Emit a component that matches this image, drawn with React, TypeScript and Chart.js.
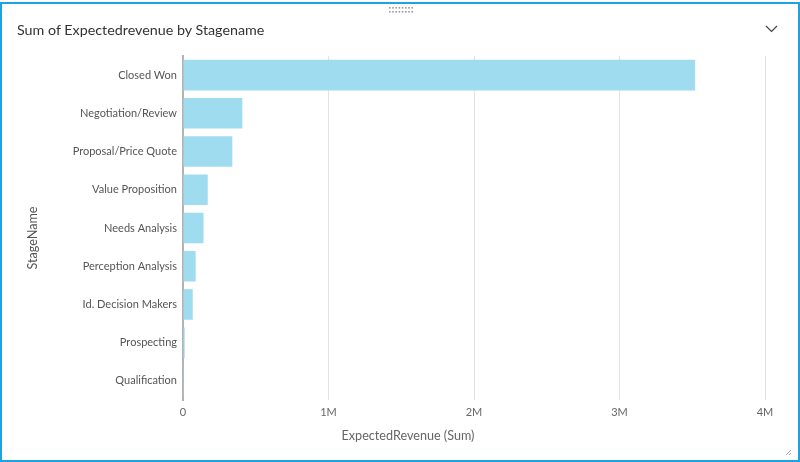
import React, { useEffect, useRef } from "react";
import { Chart, registerables } from "chart.js";

Chart.register(...registerables);

const categories: string[] = [
  "Closed Won",
  "Negotiation/Review",
  "Proposal/Price Quote",
  "Value Proposition",
  "Needs Analysis",
  "Perception Analysis",
  "Id. Decision Makers",
  "Prospecting",
  "Qualification",
];

const expectedRevenue: number[] = [
  3520000, 408000, 339000, 170000, 141000, 87000, 67000, 11700, 5000,
];

const xTickValues: number[] = [0, 1000000, 2000000, 3000000, 4000000];
const xTickLabels: string[] = ["0", "1M", "2M", "3M", "4M"];

const chartTitle = "Sum of Expectedrevenue by Stagename";
const xAxisTitle = "ExpectedRevenue (Sum)";
const yAxisTitle = "StageName";

const FONT = "Lato, 'Open Sans', sans-serif";

export default function App() {
  const canvasRef = useRef<HTMLCanvasElement | null>(null);

  useEffect(() => {
    if (!canvasRef.current) return;
    const chart = new Chart(canvasRef.current, {
      type: "bar",
      data: {
        labels: categories,
        datasets: [
          {
            label: "ExpectedRevenue",
            data: expectedRevenue,
            backgroundColor: "#9fdcf0",
            borderWidth: 0,
            barPercentage: 0.8,
            categoryPercentage: 1,
          },
        ],
      },
      options: {
        indexAxis: "y",
        animation: false,
        responsive: false,
        maintainAspectRatio: false,
        layout: { padding: { top: 56, right: 35, bottom: 0, left: 0 } },
        plugins: {
          legend: { display: false },
          tooltip: { enabled: false },
          title: { display: false },
        },
        scales: {
          x: {
            type: "linear",
            min: 0,
            max: 4000000,
            afterBuildTicks: (scale: any) => {
              scale.ticks = xTickValues.map((v) => ({ value: v }));
            },
            afterFit: (scale: any) => {
              scale.height = 62;
            },
            ticks: {
              color: "#666666",
              font: { family: FONT, size: 11 },
              padding: 6,
              maxRotation: 0,
              callback: (value: any) => {
                const i = xTickValues.indexOf(Number(value));
                return i >= 0 ? xTickLabels[i] : "";
              },
            },
            grid: {
              color: "#e3e3e3",
              lineWidth: 1,
              drawTicks: false,
            },
            border: { display: false },
            title: { display: false },
          },
          y: {
            afterFit: (scale: any) => {
              scale.width = 183;
            },
            ticks: {
              color: "#555555",
              font: { family: FONT, size: 11 },
              padding: 6,
            },
            grid: { display: false, drawTicks: false },
            border: { display: true, color: "#b3b3b3", width: 2 },
            title: { display: false },
          },
        },
      },
    });
    return () => chart.destroy();
  }, []);

  const dots: React.ReactNode[] = [];
  for (let r = 0; r < 2; r++) {
    for (let c = 0; c < 8; c++) {
      dots.push(
        <rect key={r * 8 + c} x={389 + c * 3.2} y={7 + r * 4} width={1.6} height={1.6} fill="#9a9a9a" />
      );
    }
  }

  return (
    <div
      style={{
        position: "fixed",
        left: 0,
        top: 0,
        width: 800,
        height: 462,
        background: "#ffffff",
        overflow: "hidden",
      }}
    >
      <div
        style={{
          position: "absolute",
          left: 0,
          top: 2,
          width: 800,
          height: 460,
          boxSizing: "border-box",
          border: "2px solid #1fa2e0",
        }}
      />
      <canvas
        ref={canvasRef}
        width={800}
        height={462}
        style={{ position: "absolute", left: 0, top: 0, width: 800, height: 462 }}
      />
      <div
        style={{
          position: "absolute",
          left: 17,
          top: 19,
          fontFamily: FONT,
          fontSize: 14.3,
          color: "#333333",
          whiteSpace: "nowrap",
          lineHeight: "22px",
        }}
      >
        {chartTitle}
      </div>
      <div
        style={{
          position: "absolute",
          left: 408,
          top: 427,
          transform: "translateX(-50%)",
          fontFamily: FONT,
          fontSize: 12.6,
          color: "#666666",
          whiteSpace: "nowrap",
          lineHeight: "18px",
        }}
      >
        {xAxisTitle}
      </div>
      <div
        style={{
          position: "absolute",
          left: 33,
          top: 238,
          transform: "translate(-50%, -50%) rotate(-90deg)",
          fontFamily: FONT,
          fontSize: 12.6,
          color: "#555555",
          whiteSpace: "nowrap",
          lineHeight: "18px",
        }}
      >
        {yAxisTitle}
      </div>
      <svg
        width={800}
        height={462}
        style={{ position: "absolute", left: 0, top: 0, pointerEvents: "none" }}
      >
        {dots}
        <polyline points="766,26 771.5,31.5 777,26" fill="none" stroke="#444444" strokeWidth={1.2} />
        <line x1={786} y1={455} x2={791} y2={450} stroke="#aaaaaa" strokeWidth={1} />
        <line x1={789} y1={455} x2={791} y2={453} stroke="#aaaaaa" strokeWidth={1} />
      </svg>
    </div>
  );
}
